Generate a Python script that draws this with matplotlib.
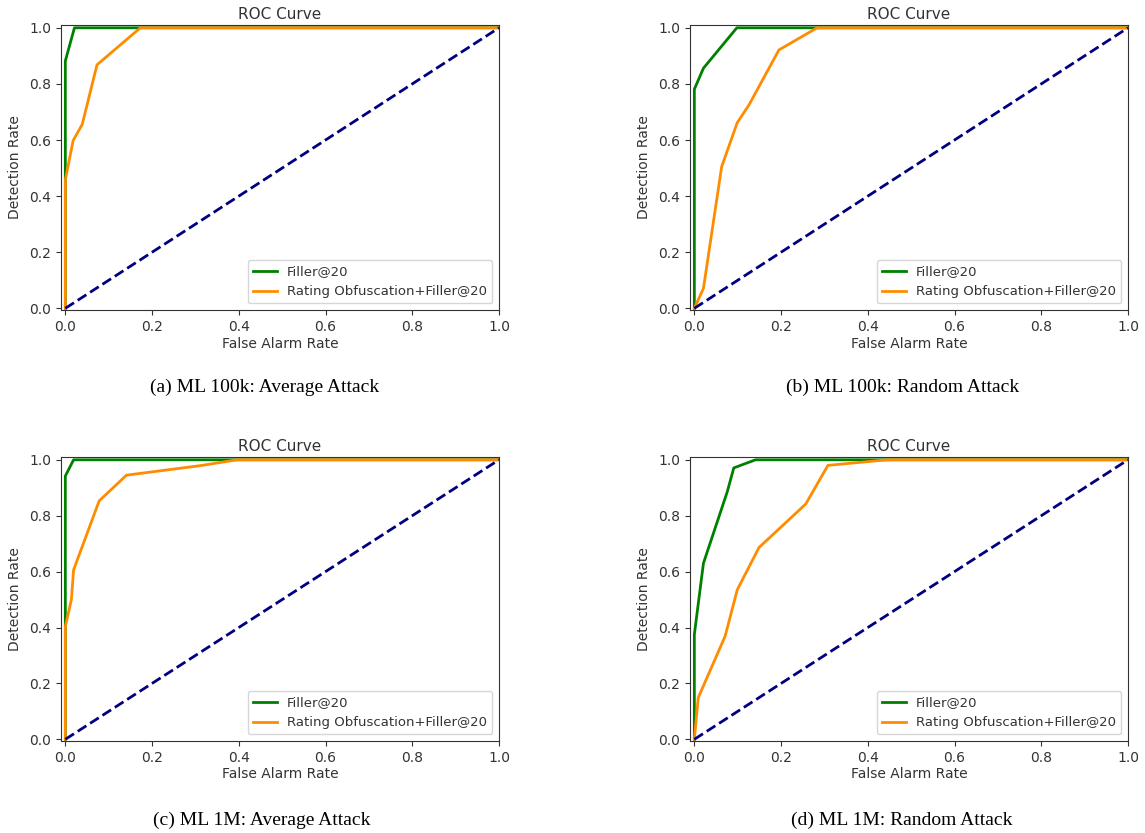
import matplotlib
matplotlib.use('Agg')
import matplotlib.pyplot as plt

# ROC points (false alarm rate, detection rate)
a_filler_fpr = [0.0, 0.0, 0.0, 0.021, 1.0]
a_filler_tpr = [0.0, 0.45, 0.882, 1.0, 1.0]
a_obf_fpr = [0.0, 0.0, 0.018, 0.039, 0.073, 0.173, 1.0]
a_obf_tpr = [0.0, 0.458, 0.598, 0.656, 0.868, 1.0, 1.0]

b_filler_fpr = [0.0, 0.0, 0.021, 0.098, 1.0]
b_filler_tpr = [0.0, 0.781, 0.856, 1.0, 1.0]
b_obf_fpr = [0.0, 0.021, 0.063, 0.099, 0.126, 0.195, 0.283, 1.0]
b_obf_tpr = [0.0, 0.071, 0.505, 0.662, 0.725, 0.921, 1.0, 1.0]

c_filler_fpr = [0.0, 0.0, 0.019, 1.0]
c_filler_tpr = [0.0, 0.942, 1.0, 1.0]
c_obf_fpr = [0.0, 0.0, 0.014, 0.019, 0.078, 0.141, 0.311, 0.396, 1.0]
c_obf_tpr = [0.0, 0.404, 0.5, 0.606, 0.853, 0.945, 0.979, 1.0, 1.0]

d_filler_fpr = [0.0, 0.0, 0.021, 0.076, 0.091, 0.141, 1.0]
d_filler_tpr = [0.0, 0.375, 0.63, 0.886, 0.971, 1.0, 1.0]
d_obf_fpr = [0.0, 0.009, 0.071, 0.099, 0.149, 0.257, 0.308, 0.445, 1.0]
d_obf_tpr = [0.0, 0.149, 0.369, 0.535, 0.686, 0.842, 0.98, 1.0, 1.0]

captions = ["(a) ML 100k: Average Attack", "(b) ML 100k: Random Attack",
            "(c) ML 1M: Average Attack", "(d) ML 1M: Random Attack"]
labels = ["Filler@20", "Rating Obfuscation+Filler@20"]

panels = [
    (a_filler_fpr, a_filler_tpr, a_obf_fpr, a_obf_tpr),
    (b_filler_fpr, b_filler_tpr, b_obf_fpr, b_obf_tpr),
    (c_filler_fpr, c_filler_tpr, c_obf_fpr, c_obf_tpr),
    (d_filler_fpr, d_filler_tpr, d_obf_fpr, d_obf_tpr),
]

W, H = 1145, 833
fig = plt.figure(figsize=(W / 100, H / 100), dpi=100)

# axes boxes in pixels: left, top, width, height
boxes = [(61, 25, 438, 285), (690, 25, 438, 285),
         (61, 457, 438, 284), (690, 457, 438, 284)]
cap_pos = [(265, 387), (903, 387), (262, 820), (902, 820)]

for i, (f1, t1, f2, t2) in enumerate(panels):
    l, t, w, h = boxes[i]
    ax = fig.add_axes([l / W, 1 - (t + h) / H, w / W, h / H])
    ax.plot(f1, t1, color='green', lw=2, label=labels[0])
    ax.plot(f2, t2, color='darkorange', lw=2, label=labels[1])
    ax.plot([0, 1], [0, 1], color='navy', lw=2, linestyle='--')
    ax.set_xlim([-0.01, 1.0])
    ax.set_ylim([-0.006, 1.01])
    ax.set_xticks([0.0, 0.2, 0.4, 0.6, 0.8, 1.0])
    ax.set_yticks([0.0, 0.2, 0.4, 0.6, 0.8, 1.0])
    ax.tick_params(labelsize=10, colors='#333333')
    for sp in ax.spines.values():
        sp.set_color('#333333')
    ax.set_xlabel('False Alarm Rate', fontsize=10, color='#333333', labelpad=2)
    ax.set_ylabel('Detection Rate', fontsize=10, color='#333333', labelpad=5)
    ax.set_title('ROC Curve', fontsize=11, color='#333333', pad=4)
    leg = ax.legend(loc='lower right', fontsize=9.5, handlelength=1.8)
    for txt in leg.get_texts():
        txt.set_color('#333333')
    cx, cy = cap_pos[i]
    fig.text(cx / W, 1 - cy / H, captions[i], ha='center', va='center',
             fontsize=14, family='Liberation Serif')

fig.savefig('out.png', dpi=100)
plt.close(fig)
